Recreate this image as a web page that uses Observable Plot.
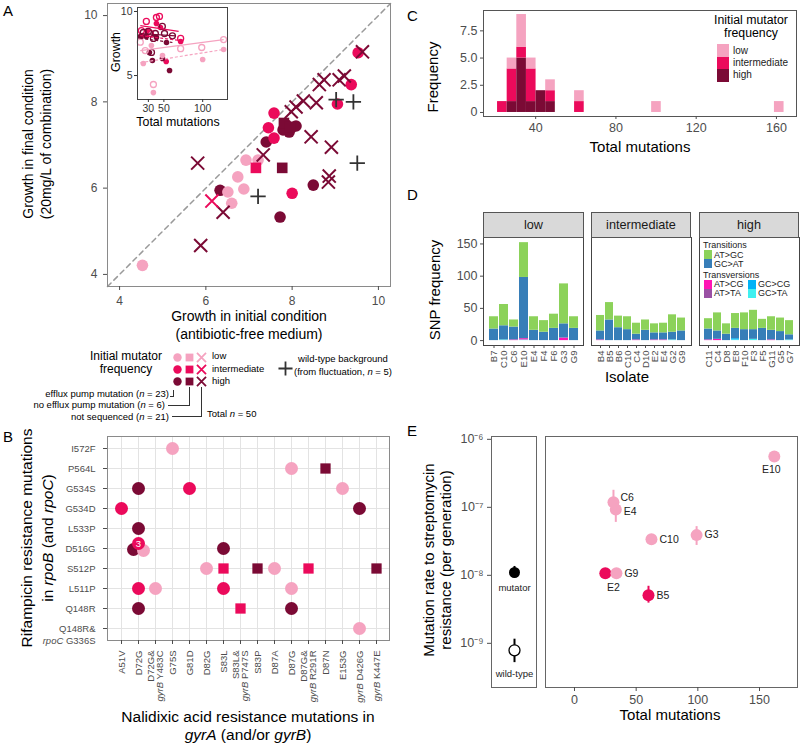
<!DOCTYPE html>
<html><head><meta charset="utf-8">
<script src="https://cdn.jsdelivr.net/npm/d3@7"></script>
<script src="https://cdn.jsdelivr.net/npm/@observablehq/plot@0.6"></script>
<style>
body{margin:0;background:#fff;font-family:"Liberation Sans",Arial,Helvetica,sans-serif;}
#root{position:relative;width:800px;height:744px;overflow:hidden;background:#fff;}
.t{position:absolute;white-space:nowrap;color:#000;}
.ln{position:absolute;background:#333;}
.sw{position:absolute;}
.strip{position:absolute;box-sizing:border-box;background:#d9d9d9;border:1px solid #555;font-size:12.7px;color:#1a1a1a;display:flex;align-items:center;justify-content:center;}
</style></head><body><div id="root"></div>
<script>
// ---------------- DATA ----------------
const levels = ["low", "intermediate", "high"];
const levelColors = ["#F5A3C0", "#EB0A5B", "#7B0A35"];

// Panel A: growth in initial vs final condition
const growthDomain = [3.72, 10.28];
const effluxInitial = [9.53, 9.37, 9.05, 7.58, 7.86, 7.98, 8.09, 7.93, 7.79, 7.40, 7.58, 7.45, 6.93, 7.21, 6.74, 6.33, 6.51, 6.88, 6.60, 8.00, 8.49, 7.72, 4.53];
const effluxFinal   = [9.14, 8.40, 7.95, 7.74, 7.47, 7.40, 7.44, 7.30, 7.35, 7.07, 7.16, 7.40, 6.65, 6.65, 6.26, 5.95, 5.91, 5.98, 5.65, 5.88, 6.07, 5.33, 4.21];
const effluxLevel   = ["intermediate","intermediate","intermediate","intermediate","high","high","high","high","high","high","intermediate","intermediate","low","low","low","high","low","low","low","intermediate","high","high","low"];
const noEffluxInitial = [7.16, 7.77, 7.81, 7.95];
const noEffluxFinal   = [6.47, 6.47, 7.51, 7.42];
const noEffluxLevel   = ["intermediate","high","high","high"];
const notSeqInitial = [9.63, 8.63, 8.74, 9.09, 9.21, 8.56, 8.26, 8.09, 7.98, 8.44, 8.91, 7.33, 5.81, 8.86, 8.84, 6.40, 5.88, 6.14];
const notSeqFinal   = [9.16, 8.40, 8.51, 8.51, 8.60, 7.98, 8.02, 7.88, 7.77, 7.19, 6.95, 6.77, 6.58, 6.28, 6.14, 5.44, 4.67, 5.70];
const notSeqLevel   = ["high","high","high","high","high","high","high","high","high","high","high","high","high","high","high","high","high","intermediate"];
const wildInitial = [9.02, 9.42, 9.51, 7.21];
const wildFinal   = [8.05, 8.00, 6.58, 5.81];

// Inset of A: growth vs total mutations
const insetXDomain = [16, 132];
const insetYDomain = [3.13, 10.31];
const insetOpenMut = [27.4, 40.4, 44.3, 21, 32.6, 71.6, 23.5, 30, 39, 48, 50.8, 61, 36.5, 34, 26, 71.6, 98.8, 127, 36.5, 19.6];
const insetOpenGrowth = [9.22, 9.53, 9.61, 8.5, 8.28, 7.9, 8.36, 8.44, 8.28, 8.83, 8.28, 8.1, 7.9, 6.8, 6.95, 7.1, 7.19, 7.81, 4.3, 7.6];
const insetOpenLevel = ["intermediate","intermediate","intermediate","intermediate","intermediate","intermediate","high","high","high","high","high","high","high","high","low","low","low","low","low","low"];
const insetFilledMut = [53, 22.2, 28.7, 45.6, 40.4, 71.6, 19.6, 27.4, 57.3, 48.2, 35.2, 31.3, 40.4, 53.4, 23.5, 36.5, 48.2, 100, 127, 33.9];
const insetFilledGrowth = [6.1, 8.1, 8.5, 8.75, 9.06, 7.66, 8.05, 8.05, 5.39, 6.33, 6.17, 6.8, 7.97, 7.58, 5.94, 3.67, 6.56, 6.25, 7.03, 7.34];
const insetFilledLevel = ["intermediate","intermediate","intermediate","intermediate","intermediate","intermediate","high","high","high","high","high","high","high","high","low","low","low","low","low","low"];
const insetFitLevel = ["intermediate", "low", "high", "intermediate", "low", "high"];
const insetFitKind  = ["open", "open", "open", "filled", "filled", "filled"];
const insetFitFrom  = [19.6, 19.6, 19.6, 19.6, 19.6, 19.6];
const insetFitTo    = [69, 127, 65, 71.6, 127, 61];
const insetFitStart = [8.9, 6.95, 8.28, 8.12, 6.0, 7.9];
const insetFitEnd   = [8.44, 7.81, 8.1, 7.73, 7.03, 7.58];

// Panel B: resistance mutation combinations
const gyrMutations = ["A51V","D72G","D72G&\ngyrB Y483C","G75S","G81D","D82G","S83L","S83L&\ngyrB P747S","S83P","D87A","D87G","D87G&\ngyrB R291R","D87N","E153G","gyrB D426G","gyrB K447E"];
const rpoMutations = ["I572F","P564L","G534S","G534D","L533P","D516G","S512P","L511P","Q148R","Q148R&\nrpoC G336S"];
const bGyrIdx = [3, 10, 12, 1, 4, 13, 0, 14, 1, 6, 5, 6, 8, 9, 11, 15, 1, 2, 6, 10, 1, 7, 10, 14];
const bRpoIdx = [0, 1, 1, 2, 2, 2, 3, 3, 4, 5, 6, 6, 6, 6, 6, 6, 7, 7, 7, 7, 8, 8, 8, 9];
const bLevel  = ["low","low","high","high","intermediate","low","intermediate","high","high","high","low","intermediate","high","low","intermediate","high","intermediate","low","intermediate","low","high","intermediate","high","low"];
const bShape  = ["circle","circle","square","circle","circle","circle","circle","circle","circle","circle","circle","square","square","circle","square","square","circle","circle","circle","circle","circle","square","circle","circle"];
const bOverlapLevel = ["high", "low", "intermediate"];   // three isolates at D72G / D516G
const bOverlapCount = [1, 1, 3];

// Panel C: histogram of total mutations
const cBinStart = [21, 25.8, 30.6, 35.4, 40.2, 45, 59.4, 97.8, 159];
const cBinWidth = 4.8;
const cHigh = [0, 1, 5, 1, 2, 1, 0, 0, 0];
const cIntermediate = [1, 3, 1, 3, 0, 1, 1, 0, 0];
const cLow = [0, 1, 3, 1, 0, 1, 1, 1, 1];

// Panel D: SNP spectra
const lowIsolates = ["B7","C10","C6","E10","E4","F4","F6","G3","G9"];
const intIsolates = ["B4","B5","B6","C10","C4","D10","E2","E4","G2","G9"];
const highIsolates = ["C11","C4","D8","E8","F10","F3","F5","G11","G5","G7"];
const snpTypes = ["GC>TA","GC>CG","AT>TA","AT>CG","GC>AT","AT>GC"]; // stacked bottom to top
const snpColors = ["#3FF0F0","#00B2F6","#9A50A4","#FF14B4","#377EB8","#8CD25A"];
const snpGcTa = [0,1,0,1,0,0,0,0,0, 0,0,0,0,0,0,0,0,1,0, 0,0,0,1,0,2,0,0,0,1];
const snpGcCg = [0,0,0,0,0,0,0,0,0, 0,0,0,0,0,0,0,0,0,0, 0,0,0,2,0,0,0,0,0,0];
const snpAtTa = [0,0,0,0,0,0,0,0,0, 0,0,0,0,0,0,0,0,0,0, 0,0,0,0,0,0,0,0,0,0];
const snpAtCg = [0,0,1,2,0,0,0,4,0, 1,0,0,0,1,0,1,1,0,0, 1,2,0,0,0,0,0,1,0,0];
const snpGcAt = [18,22,20,95,16,13,19,22,19, 14,32,20,17,9,16,11,11,12,15, 17,13,10,16,17,15,19,15,14,8];
const snpAtGc = [19,33,11,54,21,18,22,62,18, 24,27,18,20,17,16,14,15,27,20, 16,28,16,23,26,30,14,21,21,22];
const snpDomain = [-7.6, 160];

// Panel E: mutation rates
const rateDomain = [2.24e-10, 1.1e-6];
const refNames = ["mutator", "wild-type"];
const refRate = [1.1e-8, 7.9e-10];
const refLo = [9.1e-9, 5.2e-10];
const refHi = [1.35e-8, 1.15e-9];
const eIsolate = ["E10","C6","E4","C10","G3","E2","G9","B5"];
const eLevel = ["low","low","low","low","low","intermediate","low","intermediate"];
const eMutations = [162, 31.6, 33.5, 62.4, 99, 25, 34, 60];
const eRate = [5.6e-7, 1.19e-7, 9.3e-8, 3.4e-8, 3.9e-8, 1.07e-8, 1.07e-8, 5.1e-9];
const eLo = [4.9e-7, 8.0e-8, 6.0e-8, 3.1e-8, 2.75e-8, 9.5e-9, 9.5e-9, 3.9e-9];
const eHi = [6.6e-7, 1.78e-7, 1.2e-7, 3.7e-8, 5.2e-8, 1.2e-8, 1.2e-8, 6.9e-9];

// ---------------- HELPERS ----------------
const root = document.getElementById("root");
const FONT = '"Liberation Sans", Arial, Helvetica, sans-serif';
const GRAY = "#4d4d4d";
const colorOpt = {domain: levels, range: levelColors};
function place(svg, left, top) {
  svg.style.position = "absolute"; svg.style.left = left + "px"; svg.style.top = top + "px";
  svg.style.overflow = "visible";
  root.appendChild(svg); return svg;
}
function T(html, x, y, o = {}) {
  const {size = 12, anchor = "middle", rot = 0, color = "#000", lh = 1.2} = o;
  const d = document.createElement("div");
  d.className = "t"; d.innerHTML = html;
  d.style.left = x + "px"; d.style.top = y + "px"; d.style.fontSize = size + "px";
  d.style.lineHeight = lh; d.style.color = color;
  const tx = anchor === "start" ? "0" : anchor === "end" ? "-100%" : "-50%";
  d.style.textAlign = anchor === "start" ? "left" : anchor === "end" ? "right" : "center";
  d.style.transform = `translate(${tx},-50%)` + (rot ? ` rotate(${rot}deg)` : "");
  root.appendChild(d);
}
function L(x1, y1, x2, y2) {
  const d = document.createElement("div"); d.className = "ln";
  d.style.left = Math.min(x1, x2) + "px"; d.style.top = Math.min(y1, y2) + "px";
  d.style.width = Math.max(1, Math.abs(x2 - x1)) + "px"; d.style.height = Math.max(1, Math.abs(y2 - y1)) + "px";
  root.appendChild(d);
}
function SW(color, x, y, w, h) {
  const d = document.createElement("div"); d.className = "sw";
  Object.assign(d.style, {left: x + "px", top: y + "px", width: w + "px", height: h + "px", background: color});
  root.appendChild(d);
}
function italicize(svg, words) {
  const re = new RegExp("(" + words.join("|") + ")");
  svg.querySelectorAll("text, tspan").forEach(el => {
    if (el.children.length) return;
    const s = el.textContent;
    if (!re.test(s)) return;
    el.textContent = "";
    s.split(re).forEach(part => {
      if (!part) return;
      if (words.includes(part)) {
        const t = document.createElementNS("http://www.w3.org/2000/svg", "tspan");
        t.setAttribute("font-style", "italic"); t.textContent = part; el.appendChild(t);
      } else el.appendChild(document.createTextNode(part));
    });
  });
}
const baseStyle = {fontFamily: FONT, fontSize: "12px", background: "transparent", overflow: "visible"};
const intFmt = d => String(d);

// ---------------- PANEL A ----------------
const zip = (xs, ys, ls) => xs.map((x, i) => ({x, y: ys[i], level: ls ? ls[i] : null}));
const aEfflux = zip(effluxInitial, effluxFinal, effluxLevel);
const aNoEfflux = zip(noEffluxInitial, noEffluxFinal, noEffluxLevel);
const aNotSeq = zip(notSeqInitial, notSeqFinal, notSeqLevel);
const aWild = zip(wildInitial, wildFinal);

place(Plot.plot({
  width: 400, height: 315, marginLeft: 107, marginRight: 10, marginTop: 3, marginBottom: 29,
  x: {domain: growthDomain}, y: {domain: growthDomain}, color: colorOpt, style: baseStyle,
  marks: [
    Plot.line(growthDomain.map(v => [v, v]), {stroke: "#9a9a9a", strokeWidth: 1.5, strokeDasharray: "5,4"}),
    Plot.dot(aEfflux, {x: "x", y: "y", fill: "level", r: 5.8, symbol: "circle"}),
    Plot.dot(aNoEfflux, {x: "x", y: "y", fill: "level", r: 6, symbol: "square"}),
    Plot.dot(aNotSeq, {x: "x", y: "y", stroke: "level", fill: "none", r: 6, strokeWidth: 2, symbol: "times"}),
    Plot.dot(aWild, {x: "x", y: "y", stroke: "#333", fill: "none", r: 5, strokeWidth: 1.8, symbol: "plus"}),
    Plot.frame({stroke: "#8a8a8a"}),
    Plot.axisX({ticks: [4, 6, 8, 10], tickFormat: intFmt, tickSize: 4, tickPadding: 6, color: GRAY, fontSize: 12, label: null}),
    Plot.axisY({ticks: [4, 6, 8, 10], tickFormat: intFmt, tickSize: 4, tickPadding: 6, color: GRAY, fontSize: 12, label: null})
  ]
}), 0, 0);

// inset
const insetOpen = zip(insetOpenMut, insetOpenGrowth, insetOpenLevel);
const insetFilled = zip(insetFilledMut, insetFilledGrowth, insetFilledLevel);
const insetFits = insetFitLevel.map((level, i) => ({level, kind: insetFitKind[i], x1: insetFitFrom[i], x2: insetFitTo[i], y1: insetFitStart[i], y2: insetFitEnd[i]}));
place(Plot.plot({
  width: 120, height: 128, marginLeft: 27, marginRight: 3, marginTop: 7, marginBottom: 29,
  x: {domain: insetXDomain}, y: {domain: insetYDomain}, color: colorOpt, style: baseStyle,
  marks: [
    Plot.frame({fill: "white", stroke: "none"}),
    Plot.dot(insetFilled, {x: "x", y: "y", fill: "level", r: 2.8}),
    Plot.dot(insetOpen, {x: "x", y: "y", stroke: "level", fill: "none", r: 3, strokeWidth: 1.3}),
    Plot.link(insetFits.filter(d => d.kind === "open"), {x1: "x1", x2: "x2", y1: "y1", y2: "y2", stroke: "level", strokeWidth: 1.2}),
    Plot.link(insetFits.filter(d => d.kind === "filled"), {x1: "x1", x2: "x2", y1: "y1", y2: "y2", stroke: "level", strokeWidth: 1.2, strokeDasharray: "3,2"}),
    Plot.frame({stroke: "#444"}),
    Plot.axisX({ticks: [30, 50, 100], tickSize: 3, tickPadding: 2, color: "#333", fontSize: 10.5, label: null}),
    Plot.axisY({ticks: [5, 10], tickSize: 3, tickPadding: 2, color: "#333", fontSize: 10.5, label: null})
  ]
}), 110, 0);

// legend A
const legendRows = levels.map(l => ({l}));
const legendPlot = (symbol, r, filled) => Plot.dot(legendRows, filled
  ? {x: () => symbol, y: "l", fill: "l", symbol, r}
  : {x: () => symbol, y: "l", stroke: "l", fill: "none", strokeWidth: 1.8, symbol, r});
place(Plot.plot({
  width: 45, height: 40, margin: 0,
  x: {type: "point", domain: ["circle", "square", "times"], range: [8, 33], padding: 0, axis: null},
  y: {type: "point", domain: levels, range: [7, 32], padding: 0, axis: null},
  color: {domain: levels, range: levelColors}, style: baseStyle,
  marks: [legendPlot("circle", 4.2, true), legendPlot("square", 4.4, true), legendPlot("times", 4.2, false)]
}), 168, 349);
place(Plot.plot({
  width: 20, height: 20, margin: 0, x: {domain: [0, 1], axis: null}, y: {domain: [0, 1], axis: null}, style: baseStyle,
  marks: [Plot.dot([0.5], {x: d => d, y: d => d, symbol: "plus", r: 4.6, stroke: "#333", strokeWidth: 1.8})]
}), 275, 358);

T("A", 3, 11, {size: 15, anchor: "start"});
T("Growth in final condition<br>(20mg/L of combination)", 37, 144, {size: 14, rot: -90, lh: 1.3});
T("Growth in initial condition", 249, 316, {size: 14, lh: 1});
T("(antibiotic-free medium)", 249, 334, {size: 14, lh: 1});
T("Growth", 116, 52, {size: 12.4, rot: -90});
T("Total mutations", 178, 122, {size: 12.4});
T("Initial mutator", 126, 356, {size: 12, lh: 1});
T("frequency", 126, 368.5, {size: 12, lh: 1});
T("low", 212, 356, {size: 9.5, anchor: "start", lh: 1});
T("intermediate", 212, 368.5, {size: 9.5, anchor: "start", lh: 1});
T("high", 212, 381, {size: 9.5, anchor: "start", lh: 1});
T("wild-type background<br>(from fluctuation, <i>n</i> = 5)", 343, 366, {size: 9.5, lh: 1.35});
T("efflux pump mutation (<i>n</i> = 23)", 169, 394, {size: 9.5, anchor: "end", lh: 1});
T("no efflux pump mutation (<i>n</i> = 6)", 165, 405, {size: 9.5, anchor: "end", lh: 1});
T("not sequenced (<i>n</i> = 21)", 169, 417, {size: 9.5, anchor: "end", lh: 1});
T("Total <i>n</i> = 50", 207, 414, {size: 9.5, anchor: "start", lh: 1});
L(173, 390, 173, 396); L(170, 396, 174, 396);
L(189, 387, 189, 405); L(168, 405, 190, 405);
L(201, 387, 201, 416); L(172, 416, 202, 416);

// ---------------- PANEL B ----------------
const bPts = bGyrIdx.map((g, i) => ({gyr: gyrMutations[g], rpo: rpoMutations[bRpoIdx[i]], level: bLevel[i], shape: bShape[i]}));
const bOver = bOverlapLevel.map((level, i) => ({gyr: gyrMutations[1], rpo: rpoMutations[5], level, n: bOverlapCount[i]}));
const svgB = place(Plot.plot({
  width: 400, height: 319, marginLeft: 107, marginRight: 11, marginTop: 11, marginBottom: 104,
  x: {type: "point", domain: gyrMutations, padding: 0.57},
  y: {type: "point", domain: rpoMutations, padding: 0.57},
  color: colorOpt, style: baseStyle,
  marks: [
    Plot.gridX({stroke: "#e3e3e3", strokeOpacity: 1}),
    Plot.gridY({stroke: "#e3e3e3", strokeOpacity: 1}),
    Plot.frame({stroke: "#8a8a8a"}),
    Plot.dot(bPts.filter(d => d.shape === "circle"), {x: "gyr", y: "rpo", fill: "level", r: 6.5}),
    Plot.dot(bPts.filter(d => d.shape === "square"), {x: "gyr", y: "rpo", fill: "level", r: 5.8, symbol: "square"}),
    Plot.dot(bOver.filter(d => d.level === "high"), {x: "gyr", y: "rpo", fill: "level", r: 6.5, dx: -5, dy: 1}),
    Plot.dot(bOver.filter(d => d.level === "low"), {x: "gyr", y: "rpo", fill: "level", r: 6.5, dx: 5, dy: 2}),
    Plot.dot(bOver.filter(d => d.level === "intermediate"), {x: "gyr", y: "rpo", fill: "level", r: 6.5, dy: -5}),
    Plot.text(bOver.filter(d => d.n > 1), {x: "gyr", y: "rpo", text: "n", dy: -5, fill: "white", fontSize: 9.5}),
    Plot.axisX({tickRotate: -90, tickSize: 4, tickPadding: 6, color: GRAY, fontSize: 9.5, label: null}),
    Plot.axisY({tickSize: 4, tickPadding: 8, color: GRAY, fontSize: 9.5, label: null, tickFormat: d => d.split("\n")[0]}),
    Plot.text(rpoMutations.filter(d => d.includes("\n")), {y: d => d, text: d => d.split("\n")[1], frameAnchor: "left", dx: -12, dy: 12, textAnchor: "end", fill: GRAY, fontSize: 9.5})
  ]
}), 0, 425);
italicize(svgB, ["gyrB", "rpoC"]);
T("B", 3, 437, {size: 15, anchor: "start"});
T("Rifampicin resistance mutations<br>in <i>rpoB</i> (and <i>rpoC</i>)", 38, 538, {size: 15.5, rot: -90, lh: 1.35});
T("Nalidixic acid resistance mutations in<br><i>gyrA</i> (and/or <i>gyrB</i>)", 248, 726, {size: 15.5, lh: 1.18});

// ---------------- PANEL C ----------------
const cData = [];
cBinStart.forEach((s, i) => {
  cData.push({x1: s, x2: s + cBinWidth, n: cHigh[i], level: "high"});
  cData.push({x1: s, x2: s + cBinWidth, n: cIntermediate[i], level: "intermediate"});
  cData.push({x1: s, x2: s + cBinWidth, n: cLow[i], level: "low"});
});
place(Plot.plot({
  width: 400, height: 160, marginLeft: 83, marginRight: 4, marginTop: 10, marginBottom: 44,
  x: {domain: [14, 170]}, y: {domain: [-0.37, 9.37]}, color: colorOpt, style: baseStyle,
  marks: [
    Plot.rectY(cData, {x1: "x1", x2: "x2", y: "n", fill: "level"}),
    Plot.frame({stroke: "#555"}),
    Plot.axisX({ticks: [40, 80, 120, 160], tickSize: 3, tickPadding: 4, color: GRAY, fontSize: 12.5, label: null}),
    Plot.axisY({ticks: [0, 2.5, 5, 7.5], tickFormat: d => d === 0 ? "0" : d.toFixed(1), tickSize: 3, tickPadding: 3, color: GRAY, fontSize: 12.5, label: null})
  ]
}), 400, 0);
T("C", 407, 16, {size: 15, anchor: "start"});
T("Frequency", 433, 77, {size: 15, rot: -90});
T("Total mutations", 640, 147, {size: 15});
T("Initial mutator", 751, 20, {size: 12.3, lh: 1});
T("frequency", 751, 32.5, {size: 12.3, lh: 1});
levels.forEach((l, i) => {
  SW(levelColors[i], 717, 44 + i * 12.5, 12, 12.5);
  T(l, 733, 51 + i * 12, {size: 10, anchor: "start", color: "#222", lh: 1});
});

// ---------------- PANEL D ----------------
const snpSeries = [snpGcTa, snpGcCg, snpAtTa, snpAtCg, snpGcAt, snpAtGc];
function snpPanel(isolates, offset, left, width, ml, mr, showY) {
  const data = [];
  isolates.forEach((iso, i) => snpTypes.forEach((type, k) => data.push({iso, type, n: snpSeries[k][offset + i]})));
  return place(Plot.plot({
    width, height: 150, marginLeft: ml, marginRight: mr, marginTop: 7, marginBottom: 35,
    x: {type: "band", domain: isolates, paddingInner: 0.1, paddingOuter: 0.15, label: null},
    y: showY ? {domain: snpDomain, label: null} : {domain: snpDomain, axis: null, label: null},
    color: {domain: snpTypes, range: snpColors}, style: baseStyle,
    marks: [
      Plot.barY(data, {x: "iso", y: "n", fill: "type"}),
      Plot.frame({stroke: "#444"}),
      Plot.axisX({tickRotate: -90, tickSize: 3, tickPadding: 2, color: GRAY, fontSize: 9.5, label: null}),
      showY ? Plot.axisY({ticks: [0, 50, 100, 150], tickSize: 3, tickPadding: 3, color: GRAY, fontSize: 12.5, label: null}) : null
    ]
  }), left, 230);
}
snpPanel(lowIsolates, 0, 400, 185, 83, 2, true);
snpPanel(intIsolates, 9, 589, 103, 2, 1, false);
snpPanel(highIsolates, 19, 697, 103, 2, 1, false);
[["low", 483, 101], ["intermediate", 591, 100], ["high", 699, 100]].forEach(([s, x, w]) => {
  const d = document.createElement("div"); d.className = "strip"; d.textContent = s;
  Object.assign(d.style, {left: x + "px", top: "212px", width: w + "px", height: "26px"});
  root.appendChild(d);
});
T("D", 407, 195, {size: 15, anchor: "start"});
T("SNP frequency", 435, 290, {size: 15, rot: -90});
T("Isolate", 627, 377, {size: 15});
T("Transitions", 703, 245, {size: 9, anchor: "start", color: "#222", lh: 1});
SW(snpColors[5], 704, 250, 8, 8.5); T("AT>GC", 714, 255, {size: 9, anchor: "start", color: "#222", lh: 1});
SW(snpColors[4], 704, 259, 8, 8.5); T("GC>AT", 714, 264, {size: 9, anchor: "start", color: "#222", lh: 1});
T("Transversions", 703, 275, {size: 9, anchor: "start", color: "#222", lh: 1});
SW(snpColors[3], 704, 280, 8, 8.5); T("AT>CG", 714, 284, {size: 9, anchor: "start", color: "#222", lh: 1});
SW(snpColors[2], 704, 289, 8, 8.5); T("AT>TA", 714, 293, {size: 9, anchor: "start", color: "#222", lh: 1});
SW(snpColors[1], 748, 280, 8, 8.5); T("GC>CG", 758, 284, {size: 9, anchor: "start", color: "#222", lh: 1});
SW(snpColors[0], 748, 289, 8, 8.5); T("GC>TA", 758, 293, {size: 9, anchor: "start", color: "#222", lh: 1});

// ---------------- PANEL E ----------------
const supMap = {"-": "\u207B", "0": "\u2070", "1": "\u00B9", "2": "\u00B2", "3": "\u00B3", "4": "\u2074", "5": "\u2075", "6": "\u2076", "7": "\u2077", "8": "\u2078", "9": "\u2079"};
const powFormat = d => "10" + String(Math.round(Math.log10(d))).replace(/./g, c => supMap[c]);
const refData = refNames.map((name, i) => ({name, rate: refRate[i], lo: refLo[i], hi: refHi[i], g: "ref"}));
place(Plot.plot({
  width: 140, height: 319, marginLeft: 91, marginRight: 4, marginTop: 11, marginBottom: 57,
  x: {type: "point", domain: ["ref"], axis: null}, y: {type: "log", domain: rateDomain}, style: baseStyle,
  marks: [
    Plot.frame({stroke: "#666"}),
    Plot.ruleX(refData, {x: "g", y1: "lo", y2: "hi", stroke: "black", strokeWidth: 2}),
    Plot.dot(refData.filter(d => d.name === "mutator"), {x: "g", y: "rate", r: 5.5, fill: "black"}),
    Plot.dot(refData.filter(d => d.name === "wild-type"), {x: "g", y: "rate", r: 5.5, fill: "white", stroke: "black", strokeWidth: 1.3}),
    Plot.text(refData.filter(d => d.name === "mutator"), {x: "g", y: "rate", text: "name", dy: 15, fontSize: 9.5, fill: "#222"}),
    Plot.text(refData.filter(d => d.name === "wild-type"), {x: "g", y: "rate", text: "name", dy: 24, fontSize: 9.5, fill: "#222"}),
    Plot.axisY({ticks: [1e-9, 1e-8, 1e-7, 1e-6], tickFormat: powFormat, tickSize: 4, tickPadding: 4, color: GRAY, fontSize: 12.5, label: null})
  ]
}), 400, 425);
const eData = eIsolate.map((name, i) => ({name, level: eLevel[i], mut: eMutations[i], rate: eRate[i], lo: eLo[i], hi: eHi[i]}));
place(Plot.plot({
  width: 260, height: 319, marginLeft: 5, marginRight: 3, marginTop: 11, marginBottom: 57,
  x: {domain: [-23.5, 180.8]}, y: {type: "log", domain: rateDomain, axis: null}, color: colorOpt, style: baseStyle,
  marks: [
    Plot.frame({stroke: "#666"}),
    Plot.ruleX(eData, {x: "mut", y1: "lo", y2: "hi", stroke: "level", strokeWidth: 2}),
    Plot.dot(eData, {x: "mut", y: "rate", fill: "level", r: 6}),
    Plot.text(eData.filter(d => !["E10", "E2", "C6", "E4"].includes(d.name)), {x: "mut", y: "rate", text: "name", dx: 8, textAnchor: "start", fontSize: 10.5, fill: "#222"}),
    Plot.text(eData.filter(d => d.name === "C6"), {x: "mut", y: "rate", text: "name", dx: 7, dy: -5, textAnchor: "start", fontSize: 10.5, fill: "#222"}),
    Plot.text(eData.filter(d => d.name === "E4"), {x: "mut", y: "rate", text: "name", dx: 8, dy: 2, textAnchor: "start", fontSize: 10.5, fill: "#222"}),
    Plot.text(eData.filter(d => d.name === "E10"), {x: "mut", y: "rate", text: "name", dx: -3, dy: 13, fontSize: 10.5, fill: "#222"}),
    Plot.text(eData.filter(d => d.name === "E2"), {x: "mut", y: "rate", text: "name", dx: 8, dy: 14, fontSize: 10.5, fill: "#222"}),
    Plot.axisX({ticks: [0, 50, 100, 150], tickSize: 4, tickPadding: 4, color: GRAY, fontSize: 12.5, label: null})
  ]
}), 540, 425);
T("E", 407, 431, {size: 15, anchor: "start"});
T("Mutation rate to streptomycin<br>resistance (per generation)", 437, 560, {size: 15, rot: -90, lh: 1.15});
T("Total mutations", 670, 715, {size: 15});
</script></body></html>
